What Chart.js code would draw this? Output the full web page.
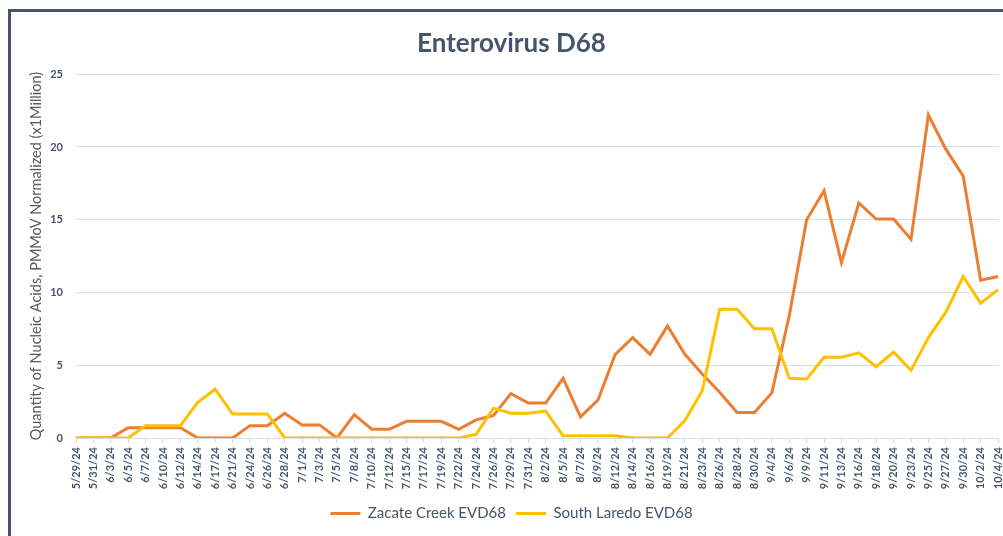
<!DOCTYPE html>
<html>
<head>
<meta charset="utf-8">
<script src="https://cdn.jsdelivr.net/npm/chart.js"></script>
<style>
    body { margin: 0; background: #fff; overflow: hidden; }
    #wrap { position: relative; width: 1003px; height: 536px; }
    #frame { position: absolute; left: 8px; top: 9px; width: 1100px; height: 700px; border: 3px solid #44546A; }
    #chart-box { position: absolute; left: 0; top: 0; width: 1003px; height: 536px; }
</style>
</head>
<body>
<div id="wrap">
    <div id="frame"></div>
    <div id="chart-box"><canvas id="evd68"></canvas></div>
</div>
<script>
const dates = ['5/29/24', '5/31/24', '6/3/24', '6/5/24', '6/7/24', '6/10/24', '6/12/24', '6/14/24', '6/17/24',
    '6/21/24', '6/24/24', '6/26/24', '6/28/24', '7/1/24', '7/3/24', '7/5/24', '7/8/24', '7/10/24', '7/12/24',
    '7/15/24', '7/17/24', '7/19/24', '7/22/24', '7/24/24', '7/26/24', '7/29/24', '7/31/24', '8/2/24', '8/5/24',
    '8/7/24', '8/9/24', '8/12/24', '8/14/24', '8/16/24', '8/19/24', '8/21/24', '8/23/24', '8/26/24', '8/28/24',
    '8/30/24', '9/4/24', '9/6/24', '9/9/24', '9/11/24', '9/13/24', '9/16/24', '9/18/24', '9/20/24', '9/23/24',
    '9/25/24', '9/27/24', '9/30/24', '10/2/24', '10/4/24'];

const zacateCreek = [0, 0, 0, 0.7, 0.7, 0.7, 0.7, 0, 0, 0, 0.85, 0.85, 1.7, 0.9, 0.9, 0, 1.6, 0.6, 0.6,
    1.15, 1.15, 1.15, 0.6, 1.25, 1.55, 3.05, 2.4, 2.4, 4.1, 1.45, 2.6, 5.75, 6.9, 5.75, 7.7, 5.75, 4.4, 3.15,
    1.75, 1.75, 3.1, 8.4, 15.0, 17.0, 12.05, 16.15, 15.05, 15.05, 13.65, 22.2, 19.85, 18.0, 10.85, 11.1];

const southLaredo = [0, 0, 0, 0, 0.85, 0.85, 0.85, 2.45, 3.35, 1.65, 1.65, 1.65, 0, 0, 0, 0, 0, 0, 0,
    0, 0, 0, 0, 0.25, 2.05, 1.7, 1.7, 1.85, 0.15, 0.15, 0.15, 0.15, 0, 0, 0, 1.2, 3.25, 8.85, 8.85,
    7.5, 7.5, 4.1, 4.05, 5.55, 5.55, 5.85, 4.9, 5.9, 4.65, 6.9, 8.65, 11.1, 9.25, 10.2];

const yTicks = [0, 5, 10, 15, 20, 25];

const slate = '#44546A';
const gridColor = '#D9DDE6';

document.addEventListener('DOMContentLoaded', () => {
    lineChart();
});

const lineChart = () => {
    const data = {
        labels: dates,
        datasets: [{
            label: 'Zacate Creek EVD68',
            data: zacateCreek,
            borderColor: '#ED7D31',
            backgroundColor: '#ED7D31',
            borderWidth: 3,
            pointRadius: 0,
            order: 1
        }, {
            label: 'South Laredo EVD68',
            data: southLaredo,
            borderColor: '#FFC000',
            backgroundColor: '#FFC000',
            borderWidth: 3,
            pointRadius: 0,
            order: 0
        }]
    };

    const chartConfig = {
        type: 'line',
        data: data,
        options: {
            responsive: true,
            maintainAspectRatio: false,
            animation: false,
            layout: {
                padding: { left: 25, right: 5, top: 0, bottom: 5 }
            },
            plugins: {
                title: {
                    display: true,
                    text: 'Enterovirus D68',
                    color: slate,
                    font: { family: 'Lato', size: 26, weight: 'bold' },
                    padding: { top: 28, bottom: 15 }
                },
                legend: {
                    position: 'bottom',
                    labels: {
                        usePointStyle: true,
                        pointStyle: 'line',
                        pointStyleWidth: 30,
                        padding: 10,
                        color: slate,
                        font: { family: 'Lato', size: 15 },
                        sort: (a, b) => a.datasetIndex - b.datasetIndex
                    }
                },
                tooltip: { enabled: false }
            },
            scales: {
                x: {
                    grid: {
                        drawOnChartArea: false,
                        tickLength: 5,
                        color: gridColor
                    },
                    border: { color: gridColor },
                    ticks: {
                        autoSkip: false,
                        maxRotation: 90,
                        minRotation: 90,
                        padding: 4,
                        color: slate,
                        font: { family: 'Lato', size: 11, weight: 'bold' }
                    },
                    afterFit: (scale) => {
                        scale.height = 58;
                        scale.paddingRight = 0;
                    }
                },
                y: {
                    min: yTicks[0],
                    max: yTicks[yTicks.length - 1],
                    afterBuildTicks: (scale) => { scale.ticks = yTicks.map(v => ({ value: v })); },
                    grid: {
                        drawTicks: false,
                        color: gridColor
                    },
                    border: { display: false },
                    ticks: {
                        padding: 13,
                        color: slate,
                        font: { family: 'Lato', size: 11, weight: 'bold' }
                    },
                    title: {
                        display: true,
                        text: 'Quantity of Nucleic Acids, PMMoV Normalized (x1Million)',
                        color: '#595959',
                        font: { family: 'Lato', size: 14.5 },
                        padding: { top: 3, bottom: 0 }
                    },
                    afterFit: (scale) => { scale.width = 51; }
                }
            }
        }
    };

    const ctx = document.getElementById('evd68').getContext('2d');
    new Chart(ctx, chartConfig);
};
</script>
</body>
</html>
